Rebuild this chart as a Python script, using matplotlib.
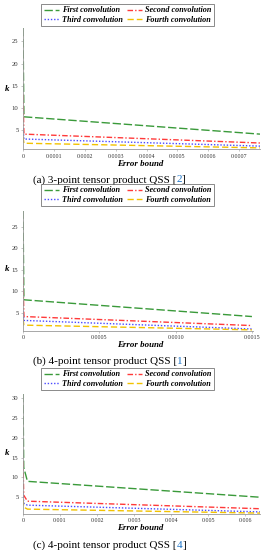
import matplotlib
matplotlib.use("Agg")
import matplotlib.pyplot as plt
from matplotlib.lines import Line2D

W, H = 261, 550

series_names = ["First convolution", "Second convolution", "Third convolution", "Fourth convolution"]
colors = ["#3a9a3a", "#ff3a3a", "#4a4aff", "#f2c200"]
dashes = [(6, 2), (4, 1.5, 1, 1.5), (1, 1.3), (4.5, 2.2)]

# Panel (a): 3-point tensor product QSS [2]
xa = [0, 0.000003, 0.000767]
ya = {
    "First convolution": [28, 8.0, 4.1],
    "Second convolution": [13, 4.1, 2.1],
    "Third convolution": [5.5, 3.0, 1.4],
    "Fourth convolution": [3.5, 2.05, 1.0],
}
xticks_a = [0, 0.0001, 0.0002, 0.0003, 0.0004, 0.0005, 0.0006, 0.0007]
xticklabels_a = ["0", "0.0001", "0.0002", "0.0003", "0.0004", "0.0005", "0.0006", "0.0007"]
yticks_a = [5, 10, 15, 20, 25]

# Panel (b): 4-point tensor product QSS [1]
xb = [0, 0.000006, 0.0015]
yb = {
    "First convolution": [28.8, 8.0, 4.1],
    "Second convolution": [13, 4.1, 2.0],
    "Third convolution": [5.5, 3.2, 1.2],
    "Fourth convolution": [3.5, 2.1, 1.0],
}
xticks_b = [0, 0.0005, 0.0010, 0.0015]
xticklabels_b = ["0", "0.0005", "0.0010", "0.0015"]
yticks_b = [5, 10, 15, 20, 25]

# Panel (c): 4-point tensor product QSS [4]
xc = [0, 0.00002, 0.00012, 0.0064]
yc = {
    "First convolution": [31, 12.5, 9.0, 5.0],
    "Second convolution": [14, 5.5, 4.0, 2.1],
    "Third convolution": [6, 3.5, 3.0, 1.3],
    "Fourth convolution": [4.5, 2.5, 2.0, 1.0],
}
xticks_c = [0, 0.001, 0.002, 0.003, 0.004, 0.005, 0.006]
xticklabels_c = ["0", "0.001", "0.002", "0.003", "0.004", "0.005", "0.006"]
yticks_c = [5, 10, 15, 20, 25, 30]

captions = [("(a) 3-point tensor product QSS [", "2", "]"),
            ("(b) 4-point tensor product QSS [", "1", "]"),
            ("(c) 4-point tensor product QSS [", "4", "]")]

serif = ["Liberation Serif", "DejaVu Serif"]

fig = plt.figure(figsize=(W / 100, H / 100), dpi=100)


def fx(px):
    return px / W


def fy(py):
    return 1 - py / H


panels = [
    dict(x=xa, y=ya, xt=xticks_a, xtl=xticklabels_a, yt=yticks_a, ylim=(0.75, 28), xlim=(0, 0.000767),
         left=23, right=260, top=28, bottom=149, leg=15, tick=155, xlab=164.5, cap=180, klab=89),
    dict(x=xb, y=yb, xt=xticks_b, xtl=xticklabels_b, yt=yticks_b, ylim=(0.85, 28.8), xlim=(0, 0.001507),
         left=23, right=253, top=210.5, bottom=330.5, leg=195, tick=335, xlab=345, cap=361, klab=269),
    dict(x=xc, y=yc, xt=xticks_c, xtl=xticklabels_c, yt=yticks_c, ylim=(0.9, 31), xlim=(0, 0.0064),
         left=23, right=260, top=394, bottom=513.5, leg=379, tick=519, xlab=528.5, cap=545, klab=453),
]

order = [0, 2, 1, 3]

for i, p in enumerate(panels):
    ax = fig.add_axes([fx(p["left"]), fy(p["bottom"]), fx(p["right"] - p["left"]), (p["bottom"] - p["top"]) / H])
    for name, c, d in zip(series_names, colors, dashes):
        ax.plot(p["x"], p["y"][name], color=c, lw=1.0, dashes=d, label=name)
    ax.set_xlim(*p["xlim"])
    ax.set_ylim(*p["ylim"])
    ax.set_xticks(p["xt"])
    ax.set_xticklabels(p["xtl"])
    ax.set_yticks(p["yt"])
    for s in ["top", "right"]:
        ax.spines[s].set_visible(False)
    for s in ["left", "bottom"]:
        ax.spines[s].set_color("#999999")
        ax.spines[s].set_linewidth(0.6)
    ax.tick_params(axis="both", length=1.5, width=0.4, color="#999999", pad=1.8, labelcolor="#333333")
    for lab in ax.get_xticklabels():
        lab.set_fontfamily(serif)
        lab.set_fontsize(4.3)
    for lab in ax.get_yticklabels():
        lab.set_fontfamily(serif)
        lab.set_fontsize(4.8)
    ax.patch.set_alpha(0)

    handles = [Line2D([], [], color=c, lw=1.0, dashes=d) for c, d in zip(colors, dashes)]
    hs = [handles[k] for k in order]
    ls = [series_names[k] for k in order]
    leg = fig.legend(hs, ls, loc="center", bbox_to_anchor=(fx(127.5), fy(p["leg"])),
                     ncol=2, frameon=True, fancybox=False, handlelength=1.9, handletextpad=0.3,
                     columnspacing=0.5, labelspacing=0.15, borderpad=0.3, borderaxespad=0,
                     prop=dict(family=serif, style="italic", weight="bold", size=5.9))
    leg.get_frame().set_edgecolor("#555555")
    leg.get_frame().set_linewidth(0.6)

    fig.text(fx(140), fy(p["xlab"]), "Error bound", ha="center", va="center", family=serif,
             style="italic", weight="bold", fontsize=6.4)
    fig.text(fx(7), fy(p["klab"]), "k", ha="center", va="center", family=serif,
             style="italic", weight="bold", fontsize=6.4)

    pre, num, post = captions[i]
    t1 = fig.text(fx(33), fy(p["cap"]), pre, ha="left", va="center", family=serif, fontsize=8)
    fig.canvas.draw()
    bb = t1.get_window_extent()
    t2 = fig.text(bb.x1 / W, fy(p["cap"]), num, ha="left", va="center", family=serif,
                  fontsize=8, color="#1a73c8")
    fig.canvas.draw()
    bb2 = t2.get_window_extent()
    fig.text(bb2.x1 / W, fy(p["cap"]), post, ha="left", va="center", family=serif, fontsize=8)

fig.savefig("out.png", dpi=100)
